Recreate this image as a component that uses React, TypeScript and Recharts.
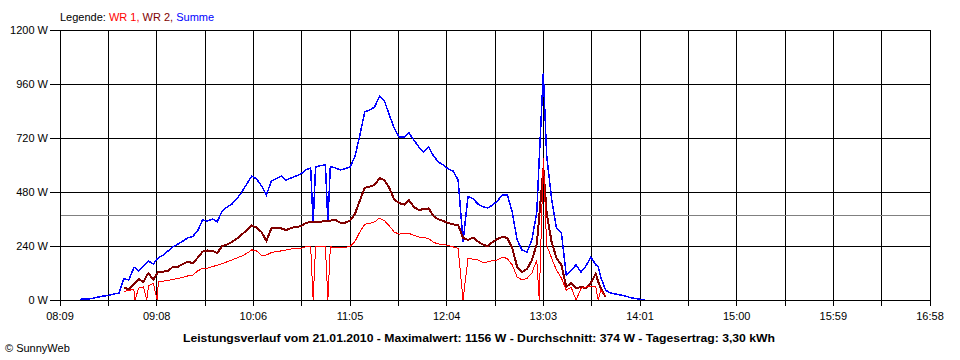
import React from 'react';
import { LineChart, Line, XAxis, YAxis, CartesianGrid, ReferenceLine } from 'recharts';

// minutes after 08:09 (start of the x axis)
const times = [
  12, 15, 18, 21, 24, 27, 30, 33, 36, 39,
  42, 45, 45.8, 48, 51, 53, 54, 57, 59.3, 60,
  63, 66, 69, 72, 75, 78, 81, 84, 87, 90,
  93, 96, 99, 102, 105, 108, 111, 114, 117, 120,
  123, 126, 129, 132, 135, 138, 141, 144, 147, 150,
  153, 154.5, 156, 159, 162, 163.5, 165, 168, 171, 174,
  177, 180, 183, 186, 189, 192, 195, 198, 201, 204,
  207, 210, 213, 216, 219, 222, 225, 228, 231, 234,
  237, 240, 243, 246, 249, 252, 255, 258, 261, 264,
  267, 270, 273, 276, 279, 282, 285, 288, 291, 292.5,
  295, 297, 300, 303, 306, 309, 312, 315, 318, 321,
  324, 327, 328.5, 330, 333, 336, 339, 342, 345, 348,
  351, 354, 357,
];

const summe = [
  3, 4, 5, 9, 14, 18, 21, 27, 31, 95,
  89, 142, 145, 129, 151, 165, 173, 160, 183, 187,
  200, 218, 236, 249, 262, 276, 282, 307, 356, 351,
  360, 348, 396, 413, 427, 451, 480, 516, 551, 538,
  507, 467, 529, 540, 551, 533, 542, 551, 560, 578,
  587, 342, 591, 598, 600, 347, 593, 587, 578, 584,
  591, 636, 733, 836, 844, 858, 905, 885, 822, 764,
  724, 724, 742, 711, 680, 658, 680, 640, 613, 600,
  582, 573, 533, 259, 459, 451, 427, 415, 409, 422,
  440, 467, 467, 391, 267, 222, 213, 267, 390, 630,
  1008, 644, 453, 320, 300, 111, 133, 156, 124, 151,
  191, 156, 150, 102, 44, 31, 27, 22, 18, 11,
  7, 3, 2,
];

const wr2 = [
  null, null, null, null, null, null, null, null, null, 56,
  47, 71, 75, 93, 80, 110, 118, 91, 118, 126,
  126, 129, 148, 148, 160, 170, 164, 187, 215, 220,
  218, 209, 240, 247, 258, 273, 291, 311, 331, 322,
  302, 262, 319, 319, 318, 311, 320, 326, 327, 342,
  347, 348, 348, 348, 351, 351, 353, 356, 344, 344,
  353, 382, 442, 498, 504, 511, 542, 533, 498, 447,
  431, 424, 444, 413, 400, 404, 407, 373, 358, 351,
  342, 336, 333, 276, 267, 278, 260, 247, 238, 258,
  271, 281, 276, 231, 148, 124, 138, 176, 249, 370,
  587, 389, 260, 187, 156, 58, 76, 51, 58, 53,
  76, 116, 81, 53, 13, null, null, null, null, null,
  null, null, null,
];

const wr1 = [
  null, null, null, null, null, null, null, null, null, 38,
  42, 49, 0, 53, 58, 0, 64, 73, 0, 80,
  84, 88, 91, 96, 101, 107, 111, 129, 141, 142,
  148, 155, 162, 170, 178, 187, 196, 207, 223, 218,
  198, 200, 211, 216, 218, 222, 227, 228, 230, 236,
  237, 0, 237, 237, 237, 0, 236, 234, 234, 234,
  238, 260, 302, 336, 341, 347, 364, 353, 329, 302,
  293, 296, 296, 287, 280, 278, 273, 256, 249, 247,
  242, 236, 229, 0, 184, 182, 178, 167, 169, 176,
  178, 191, 184, 156, 102, 89, 96, 120, 178, 0,
  631, 244, 187, 133, 98, 44, 56, 0, 52, 58,
  59, 58, 0, 44, 18, null, null, null, null, null,
  null, null, null,
];

const xLabels = ['08:09', '09:08', '10:06', '11:05', '12:04', '13:03', '14:01', '15:00', '15:59', '16:58'];
const yTicks = [0, 240, 480, 720, 960, 1200];
const average = 374;

const SPAN = 531; // minutes from 08:09 to the right edge
const STEPS = (xLabels.length - 1) * 2;
const xTicks = Array.from({ length: STEPS + 1 }, (_, i) => (i * SPAN) / STEPS);

const data = times.map((t, i) => ({ t, wr1: wr1[i], wr2: wr2[i], summe: summe[i] }));

const FONT = '"Liberation Sans", Arial, sans-serif';

const formatX = (v: number) => {
  const i = Math.round((v * STEPS) / SPAN);
  return i % 2 === 0 ? xLabels[i / 2] : '';
};

export default function App() {
  return (
    <div style={{ position: 'absolute', left: 0, top: 0, width: 960, height: 360, background: '#fff', fontFamily: FONT }}>
      <style>{`
        .recharts-cartesian-grid line,
        .recharts-cartesian-axis line,
        .recharts-reference-line line,
        .recharts-line-curve { shape-rendering: crispEdges; }
      `}</style>
      <LineChart width={960} height={360} data={data} margin={{ top: 30, right: 30, bottom: 30, left: 0 }}>
        <CartesianGrid stroke="#000" strokeOpacity={1} />
        <XAxis
          dataKey="t"
          type="number"
          domain={[0, SPAN]}
          ticks={xTicks}
          interval={0}
          tickFormatter={formatX}
          stroke="#000"
          tickSize={6}
          tickMargin={6}
          height={30}
          tick={{ fill: '#000', fontSize: 11, fontFamily: FONT }}
        />
        <YAxis
          type="number"
          domain={[0, 1200]}
          ticks={yTicks}
          interval={0}
          tickFormatter={(v: number) => `${v} W`}
          stroke="#000"
          tickSize={10}
          tickMargin={2}
          width={60}
          tick={{ fill: '#000', fontSize: 11, fontFamily: FONT }}
        />
        <ReferenceLine y={average} stroke="#808080" strokeWidth={1} />
        <Line dataKey="summe" stroke="#0000ff" strokeWidth={1.5} dot={false} type="linear" isAnimationActive={false} />
        <Line dataKey="wr2" stroke="#800000" strokeWidth={2} dot={false} type="linear" isAnimationActive={false} />
        <Line dataKey="wr1" stroke="#ff0000" strokeWidth={1} dot={false} type="linear" isAnimationActive={false} />
      </LineChart>
      <svg width={960} height={360} style={{ position: 'absolute', left: 0, top: 0, pointerEvents: 'none' }}>
        <text x={60} y={21} fontSize={11} fontFamily={FONT}>
          <tspan fill="#000">Legende: </tspan>
          <tspan fill="#ff0000">WR 1, </tspan>
          <tspan fill="#800000">WR 2, </tspan>
          <tspan fill="#0000ff">Summe</tspan>
        </text>
        <text x={183} y={342} fontSize={11.5} fontWeight="bold" fontFamily={FONT} textLength={592} lengthAdjust="spacingAndGlyphs">
          Leistungsverlauf vom 21.01.2010 - Maximalwert: 1156 W - Durchschnitt: 374 W - Tagesertrag: 3,30 kWh
        </text>
        <text x={5} y={352} fontSize={11} fontFamily={FONT}>© SunnyWeb</text>
      </svg>
    </div>
  );
}
